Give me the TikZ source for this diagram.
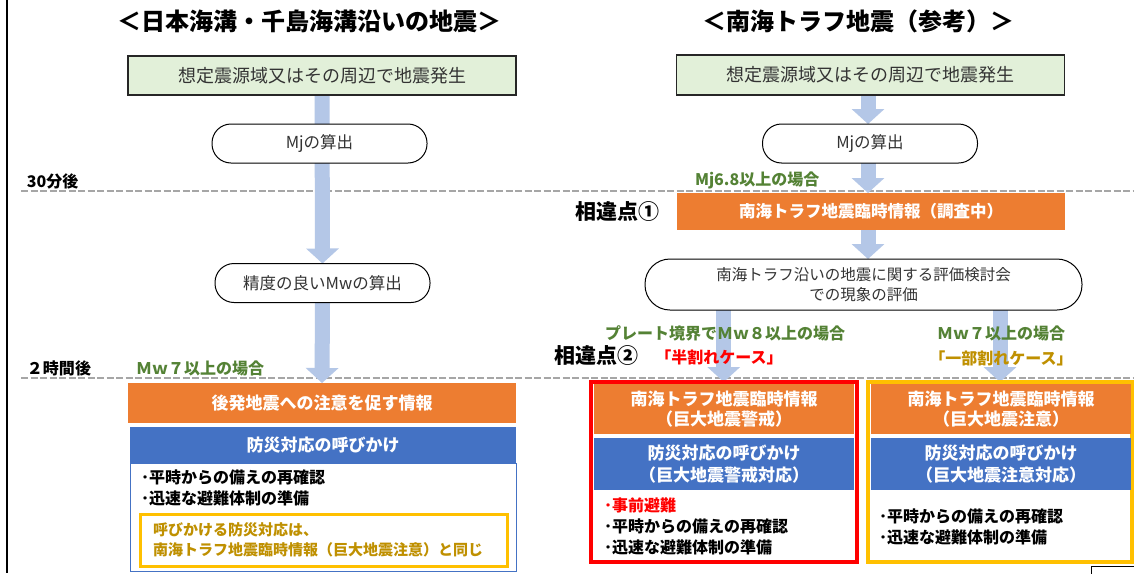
\documentclass[tikz,border=0pt]{standalone}
\usepackage{fontspec}
\setmainfont{Noto Sans CJK JP}
\usetikzlibrary{arrows.meta}
\definecolor{grn}{HTML}{E2F0D9}
\definecolor{org}{HTML}{ED7D31}
\definecolor{blu}{HTML}{4472C4}
\definecolor{arr}{HTML}{B4C7E7}
\definecolor{gtxt}{HTML}{548235}
\definecolor{goldtxt}{HTML}{BF9000}
\definecolor{ylw}{HTML}{FFC000}
\definecolor{dashgray}{HTML}{A6A6A6}
\definecolor{txtgray}{HTML}{333333}
\newcommand\fsz[2]{\fontsize{#1pt}{#2pt}\selectfont}
\pgfdeclarelayer{bg}
\pgfsetlayers{bg,main}
\tikzset{
  every node/.style={inner sep=0pt, outer sep=0pt},
  titletxt/.style={font=\bfseries\fsz{24}{28}},
  greenbox/.style={draw=black!85, line width=1.2pt, fill=grn, minimum width=388pt, minimum height=39pt, text=txtgray, font=\fsz{18}{22}},
  pill/.style={draw=black, line width=1pt, fill=white, rounded corners=19pt, minimum width=215pt, minimum height=39pt, text=txtgray, font=\fsz{16.5}{20}},
  orgbox/.style={fill=org, text=white, font=\bfseries\fsz{17}{20.5}, align=center},
  blubox/.style={fill=blu, text=white, font=\bfseries\fsz{17}{22}, align=center},
  barrow/.style={draw=arr, line width=15pt, -{Triangle[width=32pt,length=15pt]}},
  sepline/.style={draw=dashgray, line width=2.6pt, dash pattern=on 7pt off 2.5pt},
  lbl/.style={font=\bfseries\fsz{16}{20}},
  glbl/.style={font=\bfseries\fsz{16}{20}, text=gtxt},
  bul/.style={font=\bfseries\fsz{16}{21}, align=left, anchor=west},
  diff/.style={font=\bfseries\fsz{21}{24}}
}
\begin{document}
\begin{tikzpicture}[x=1pt,y=-1pt]
\useasboundingbox (0,0) rectangle (1134,573);
\clip (0,0) rectangle (1134,573);

% titles
\node[titletxt] (t1) at (309,21) {＜日本海溝・千島海溝沿いの地震＞};
\node[titletxt] (t2) at (858,21) {＜南海トラフ地震（参考）＞};

% left column
\node[greenbox] (g1) at (322,75.5) {想定震源域又はその周辺で地震発生};
\node[pill] (mj1) at (319.5,143.5) {Mjの算出};
\node[pill] (mw1) at (322.5,283) {精度の良いMwの算出};
\node[orgbox, minimum width=388.5pt, minimum height=40pt] (o1) at (322,403) {後発地震への注意を促す情報};
\node[blubox, minimum width=386pt, minimum height=36.5pt] (b1) at (323,445) {防災対応の呼びかけ};
\node[draw=blu, line width=1pt, fill=white, minimum width=386pt, minimum height=108pt] (w1) at (323,517.5) {};
\node[bul] (l1) at (141,487.5) {･平時からの備えの再確認\\･迅速な避難体制の準備};
\node[draw=ylw, line width=3pt, minimum width=367pt, minimum height=52pt] (y1) at (323.5,540) {};
\node[font=\bfseries\fsz{15}{20}, text=goldtxt, align=left, anchor=west] (gnote) at (153,540) {呼びかける防災対応は、\\南海トラフ地震臨時情報（巨大地震注意）と同じ};

% right column
\node[greenbox, minimum height=40pt] (g2) at (870.5,75) {想定震源域又はその周辺で地震発生};
\node[pill] (mj2) at (870,143.5) {Mjの算出};
\node[orgbox, minimum width=388pt, minimum height=37pt, font=\bfseries\fsz{16.5}{20}] (inf) at (871,211.5) {南海トラフ地震臨時情報（調査中）};
\node[draw=black, line width=1pt, fill=white, rounded corners=25pt, minimum width=437pt, minimum height=51pt, text=txtgray, font=\fsz{15.5}{20}, align=center] (ev) at (863.5,284.5) {南海トラフ沿いの地震に関する評価検討会\\での現象の評価};

% red case
\node[draw=red, line width=4pt, fill=white, minimum width=265.5pt, minimum height=180pt] (rb) at (723.75,472) {};
\node[orgbox, minimum width=260pt, minimum height=50pt] (o2) at (724,409) {南海トラフ地震臨時情報\\（巨大地震警戒）};
\node[blubox, minimum width=260pt, minimum height=52pt] (b2) at (724,464) {防災対応の呼びかけ\\（巨大地震警戒対応）};
\node[bul] (r1) at (604,526.5) {\textcolor{red}{･事前避難}\\･平時からの備えの再確認\\･迅速な避難体制の準備};

% yellow case
\node[draw=ylw, line width=4pt, fill=white, minimum width=264pt, minimum height=180pt] (yb) at (1000,472) {};
\node[orgbox, minimum width=260pt, minimum height=50pt] (o3) at (1001,409) {南海トラフ地震臨時情報\\（巨大地震注意）};
\node[blubox, minimum width=260pt, minimum height=52pt] (b3) at (1001,464) {防災対応の呼びかけ\\（巨大地震注意対応）};
\node[bul] (r2) at (879,527) {･平時からの備えの再確認\\･迅速な避難体制の準備};

% labels
\node[lbl, anchor=west] (m30) at (27,181) {30分後};
\node[lbl, anchor=west] (h2) at (27,368) {２時間後};
\node[glbl, anchor=west] (c1) at (136,368) {Ｍｗ７以上の場合};
\node[glbl, anchor=west] (c2) at (695,180) {Mj6.8以上の場合};
\node[diff, anchor=west] (d1) at (575,212) {相違点①};
\node[diff, anchor=east] (d2) at (638,356) {相違点②};
\node[glbl] (c3) at (725,333) {プレート境界でＭｗ８以上の場合};
\node[font=\bfseries\fsz{16}{20}, text=red] (c4) at (719,357) {「半割れケース」};
\node[glbl] (c5) at (1001,333) {Ｍｗ７以上の場合};
\node[font=\bfseries\fsz{16}{20}, text=goldtxt] (c6) at (1001,358) {「一部割れケース」};

% small box bottom right
\node[draw=black, line width=0.8pt, minimum width=50pt, minimum height=14pt, anchor=north west] (sb) at (1091,566) {};

\begin{pgfonlayer}{bg}
  \fill[white] (0,0) rectangle (1134,573);
  \draw[sepline] (21,191) -- (1134,191);
  \draw[sepline] (21,378) -- (1134,378);
  \draw[barrow] (g1.south) -- (mw1.north);
  \draw[barrow] (mw1.south) -- (o1.north);
  \draw[barrow] (g2.south -| 868,0) -- (mj2.north -| 868,0);
  \draw[barrow] (mj2.south -| 868,0) -- (inf.north -| 868,0);
  \draw[barrow] (inf.south -| 868,0) -- (ev.north -| 868,0);
  \draw[barrow] (ev.south -| rb.north) -- (rb.north);
  \draw[barrow] (ev.south -| yb.north) -- (yb.north);
\end{pgfonlayer}

% left frame line
\draw[line width=2pt, black] (7,0) -- (7,573);
\end{tikzpicture}
\end{document}
